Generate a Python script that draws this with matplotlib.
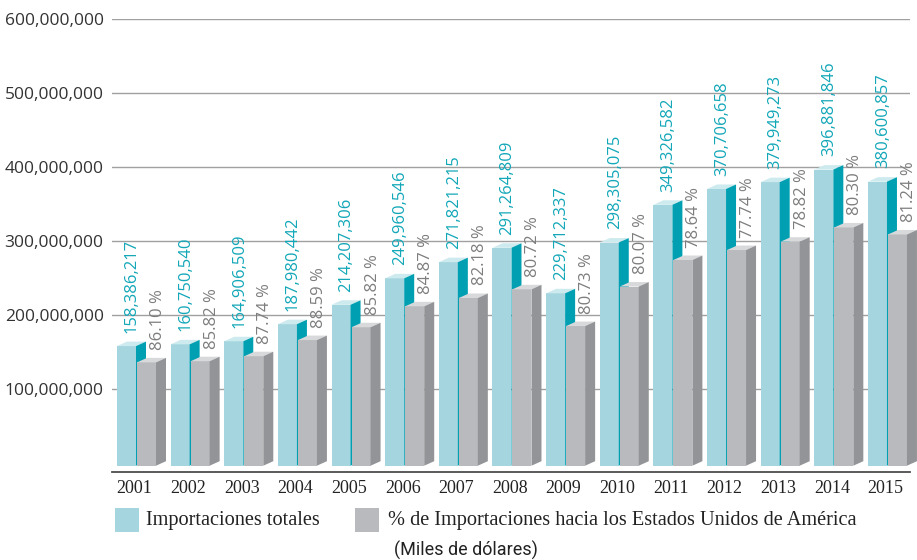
import numpy as np
import matplotlib
matplotlib.use("Agg")
import matplotlib.pyplot as plt
from matplotlib.patches import Polygon, Rectangle
from matplotlib.ticker import FuncFormatter
from matplotlib import font_manager

years = ["2001", "2002", "2003", "2004", "2005", "2006", "2007", "2008",
         "2009", "2010", "2011", "2012", "2013", "2014", "2015"]
totales = [158386217, 160750540, 164906509, 187980442, 214207306, 249960546,
           271821215, 291264809, 229712337, 298305075, 349326582, 370706658,
           379949273, 396881846, 380600857]
pct_eua = [86.10, 85.82, 87.74, 88.59, 85.82, 84.87, 82.18, 80.72,
           80.73, 80.07, 78.64, 77.74, 78.82, 80.30, 81.24]

TEAL_FRONT = "#a5d6e0"
TEAL_TOP = "#cdeaee"
TEAL_SIDE = "#00a0b2"
GRAY_FRONT = "#b9babd"
GRAY_TOP = "#d8d9db"
GRAY_SIDE = "#929497"
TEAL_TEXT = "#12a7b8"
GRAY_TEXT = "#7d7d7f"

# narrow sans for the unit note, if present
try:
    font_manager.findfont("Liberation Sans Narrow", fallback_to_default=False)
    note_font, note_size = "Liberation Sans Narrow", 14
except ValueError:
    note_font, note_size = "Roboto", 13

W, H = 917, 560
fig = plt.figure(figsize=(W / 100, H / 100), dpi=100)

# axes box in pixels: x 112..910, y 19 (600M) .. 472 (axis line)
ax_left, ax_right = 112, 910
ax_top, ax_bot = 19.3, 471.7
ax = fig.add_axes([ax_left / W, (H - ax_bot) / H,
                   (ax_right - ax_left) / W, (ax_bot - ax_top) / H])

pitch = 53.64          # px between groups
x0 = 117               # px of first teal bar
px_per_unit_y = 74.0 / 100e6
y_zero = 463.3
ax.set_xlim((ax_left - x0) / pitch, (ax_right - x0) / pitch)
ax.set_ylim(-(ax_bot - y_zero) / px_per_unit_y, 600e6)

bw = 19 / pitch        # front width
gap = 20 / pitch       # offset of grey bar from teal bar
dx = 10 / pitch        # depth
dy = 4.5 / px_per_unit_y
base = -(465.7 - y_zero) / px_per_unit_y


def bar3d(x, h, front, top, side, z):
    ax.add_patch(Rectangle((x, base), bw, h - base, facecolor=front,
                           edgecolor="none", zorder=z, clip_on=False))
    ax.add_patch(Polygon([(x, h), (x + bw, h), (x + bw + dx, h + dy), (x + dx, h + dy)],
                         closed=True, facecolor=top, edgecolor="none", zorder=z,
                         clip_on=False))
    ax.add_patch(Polygon([(x + bw, base), (x + bw + dx, base + dy),
                          (x + bw + dx, h + dy), (x + bw, h)],
                         closed=True, facecolor=side, edgecolor="none", zorder=z,
                         clip_on=False))


for i, (tot, p) in enumerate(zip(totales, pct_eua)):
    eua = tot * p / 100
    bar3d(i, tot, TEAL_FRONT, TEAL_TOP, TEAL_SIDE, 3 + 2 * i)
    bar3d(i + gap, eua, GRAY_FRONT, GRAY_TOP, GRAY_SIDE, 4 + 2 * i)
    ax.annotate(f"{tot:,}", (i + 15 / pitch, tot), xytext=(0, 9.5),
                textcoords="offset points", rotation=90, ha="center", va="bottom",
                fontsize=12, color=TEAL_TEXT, family="Open Sans", zorder=40,
                annotation_clip=False)
    ax.annotate(f"{p:.2f} %", (i + 41 / pitch, eua), xytext=(0, 9),
                textcoords="offset points", rotation=90, ha="center", va="bottom",
                fontsize=12, color=GRAY_TEXT, family="Open Sans", zorder=40,
                annotation_clip=False)

# grid and axis
ax.set_yticks(np.arange(100e6, 600e6 + 1, 100e6))
ax.yaxis.set_major_formatter(FuncFormatter(lambda v, _: f"{v:,.0f}"))
ax.grid(axis="y", color="#a0a0a0", lw=1.0, zorder=0)
ax.set_axisbelow(True)
for s in ["top", "right", "left"]:
    ax.spines[s].set_visible(False)
ax.spines["bottom"].set_color("#4d4d4d")
ax.spines["bottom"].set_linewidth(1.3)
ax.tick_params(axis="y", length=0, pad=6, labelsize=12.5, labelcolor="#333333")
for lab in ax.get_yticklabels():
    lab.set_family("Open Sans")

ax.set_xticks(np.arange(len(years)) + 17.5 / pitch)
ax.set_xticklabels(years, family="Liberation Serif", fontsize=13, color="#222222")
ax.tick_params(axis="x", length=0, pad=6)

# legend
fig.patches.append(Rectangle((115 / W, (H - 532) / H), 24 / W, 24 / H,
                             transform=fig.transFigure, facecolor=TEAL_FRONT,
                             edgecolor="none"))
fig.patches.append(Rectangle((355 / W, (H - 532) / H), 24 / W, 24 / H,
                             transform=fig.transFigure, facecolor=GRAY_FRONT,
                             edgecolor="none"))
fig.text(146 / W, (H - 520) / H, "Importaciones totales", family="Liberation Serif",
         fontsize=14.6, color="#222222", va="center", ha="left")
fig.text(388 / W, (H - 520) / H, "% de Importaciones hacia los Estados Unidos de América",
         family="Liberation Serif", fontsize=14.6, color="#222222", va="center", ha="left")
fig.text(466 / W, (H - 550) / H, "(Miles de dólares)", family=note_font,
         fontsize=note_size, color="#222222", va="center", ha="center")

fig.savefig("out.png", dpi=100)
